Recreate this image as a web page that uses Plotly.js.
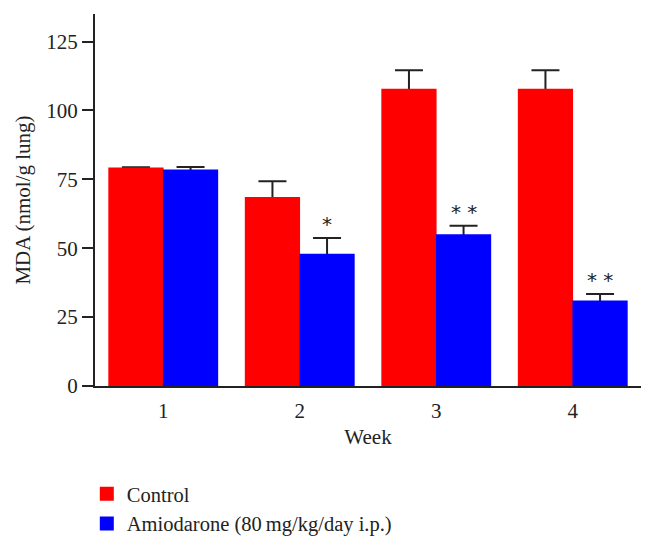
<!DOCTYPE html>
<html>
<head>
<meta charset="utf-8">
<script src="https://cdn.plot.ly/plotly-3.0.1.min.js"></script>
<style>html,body{margin:0;padding:0;background:#fff;}#chart{width:649px;height:548px;}</style>
</head>
<body>
<div id="chart"></div>
<script>
const weeks = [1, 2, 3, 4];
const tickLabels = ["1", "2", "3", "4"];
const controlMean = [78.9, 68.2, 107.5, 107.5];
const controlErr = [0.5, 6.1, 7.1, 7.1];
const amioMean = [78.2, 47.6, 54.7, 30.7];
const amioErr = [1.3, 6.1, 3.5, 2.7];
const significance = ["", "*", "* *", "* *"];
const seriesNames = ["Control", "Amiodarone (80\u2009mg/kg/day i.p.)"];

const FONT = "Liberation Serif, Times New Roman, serif";
const RED = "#ff0000", BLUE = "#0000ff", INK = "#222";
const BAR_W = 0.39;
const OFFSETS = [-0.395, 0.005];

function errCarrier(y, err, off) {
  return {
    type: "bar", x: weeks, y: y, width: BAR_W, offset: off, showlegend: false, hoverinfo: "skip",
    marker: {color: "rgba(0,0,0,0)", line: {width: 0}},
    error_y: {type: "data", array: err, symmetric: true, color: INK, thickness: 2, width: 14}
  };
}
function bars(y, name, color, off) {
  return {
    type: "bar", x: weeks, y: y, width: BAR_W, offset: off, name: name,
    marker: {color: color, line: {width: 2, color: color}}
  };
}

const traces = [
  errCarrier(controlMean, controlErr, OFFSETS[0]),
  errCarrier(amioMean, amioErr, OFFSETS[1]),
  bars(controlMean, seriesNames[0], RED, OFFSETS[0]),
  bars(amioMean, seriesNames[1], BLUE, OFFSETS[1])
];

const annotations = weeks.map((w, i) => ({
  x: w + 0.2, y: amioMean[i] + amioErr[i], xref: "x", yref: "y",
  text: significance[i], showarrow: false, yanchor: "bottom", yshift: 0,
  font: {family: "DejaVu Sans, sans-serif", size: 20, color: INK}
}));

const layout = {
  width: 649, height: 548,
  margin: {l: 95, r: 8, t: 14, b: 162, autoexpand: false},
  paper_bgcolor: "#fff", plot_bgcolor: "#fff",
  font: {family: FONT, size: 21, color: INK},
  barmode: "overlay",
  showlegend: true,
  legend: {x: -0.015, y: -0.2366, xanchor: "left", yanchor: "top",
           orientation: "v", font: {family: FONT, size: 20.5, color: INK}, tracegroupgap: 0,
           bgcolor: "rgba(0,0,0,0)"},
  xaxis: {
    range: [0.5, 4.5], tickmode: "array", tickvals: weeks, ticktext: tickLabels,
    showgrid: false, zeroline: false, showline: true, linecolor: INK, linewidth: 2,
    ticks: "", ticklabelstandoff: 5, automargin: false,
    title: {text: "Week", font: {family: FONT, size: 21, color: INK}, standoff: 7}
  },
  yaxis: {
    range: [0, 135], tickmode: "array", tickvals: [0, 25, 50, 75, 100, 125],
    showgrid: false, zeroline: false, showline: true, linecolor: INK, linewidth: 2,
    ticks: "outside", ticklen: 11, tickwidth: 2, tickcolor: INK, automargin: false,
    title: {text: "MDA (nmol/g lung)", font: {family: FONT, size: 21, color: INK}, standoff: 10}
  },
  annotations: annotations
};

Plotly.newPlot("chart", traces, layout, {displayModeBar: false, staticPlot: true});
</script>
</body>
</html>
